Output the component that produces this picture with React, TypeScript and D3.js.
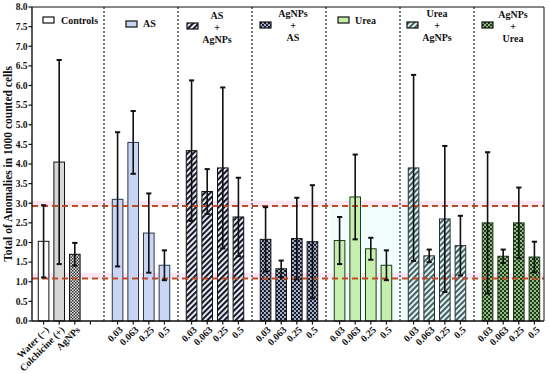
import React from "react";
import * as d3 from "d3";

// groups shown left to right, each with up to 4 slots
const groups = ["Controls", "AS", "AS+AgNPs", "AgNPs+AS", "Urea", "Urea+AgNPs", "AgNPs+Urea"];
const groupLegend = [
  ["Controls"],
  ["AS"],
  ["AS", "+", "AgNPs"],
  ["AgNPs", "+", "AS"],
  ["Urea"],
  ["Urea", "+", "AgNPs"],
  ["AgNPs", "+", "Urea"]
];
const controlLabels = ["Water (−)", "Colchicine (+)", "AgNPs"];
const doseLabels = ["0.03", "0.063", "0.25", "0.5"];

// mean and SD per group
const controlMean = [2.03, 4.05, 1.7];
const controlSd = [0.92, 2.6, 0.29];
const asMean = [3.1, 4.55, 2.24, 1.42];
const asSd = [1.71, 0.8, 1.01, 0.38];
const asAgMean = [4.34, 3.3, 3.9, 2.65];
const asAgSd = [1.79, 0.57, 2.05, 1.0];
const agAsMean = [2.08, 1.33, 2.1, 2.02];
const agAsSd = [0.82, 0.21, 1.04, 1.44];
const ureaMean = [2.05, 3.16, 1.84, 1.42];
const ureaSd = [0.6, 1.08, 0.28, 0.38];
const ureaAgMean = [3.9, 1.66, 2.6, 1.92];
const ureaAgSd = [2.37, 0.16, 1.86, 0.76];
const agUreaMean = [2.5, 1.65, 2.5, 1.63];
const agUreaSd = [1.8, 0.17, 0.9, 0.39];

// reference lines (dashed) and the pale bands beside them
const refLines = [1.08, 2.93];
const refBands = [[1.08, 1.22], [2.92, 3.06]];
const yTicks = d3.range(0, 8.01, 0.5);

const groupMeans = [controlMean, asMean, asAgMean, agAsMean, ureaMean, ureaAgMean, agUreaMean];
const groupSds = [controlSd, asSd, asAgSd, agAsSd, ureaSd, ureaAgSd, agUreaSd];
const controlFills = ["#ffffff", "#d6d6d6", "url(#chkGray)"];
const groupFills = [null, "#c9d6f3", "url(#stripeNavy)", "url(#dotNavy)", "#c6eeae", "url(#stripeTeal)", "url(#dotGreen)"];
const groupStrokes = ["#111", "#2a3550", "#111", "#111", "#1c3a16", "#1e3535", "#1c3a16"];

// legend placement inside each group: [swatch dx, swatch y, text dx, first baseline]
const legendPos = [
  [13, 17, 31, 24],
  [22, 21, 39, 27],
  [9, 23, 39, 19],
  [8, 22, 41, 17],
  [12, 17, 29, 24],
  [7, 22, 37, 17],
  [8, 22, 39, 18]
];

const W = 550;
const H = 373;
const left = 32;
const right = 544;
const top = 7;
const bottom = 321;
const font = "'Liberation Serif', 'DejaVu Serif', serif";

export default function App() {
  const y = d3.scaleLinear().domain([0, 8]).range([bottom, top]);
  const gx = d3.scaleBand<string>().domain(groups).range([left - 2, right + 4]);
  const slot = d3
    .scaleBand<number>()
    .domain([0, 1, 2, 3])
    .range([0, gx.bandwidth()])
    .paddingInner(0.32)
    .paddingOuter(0.53);
  const bw = slot.bandwidth();

  const bars: any[] = [];
  const ticks: any[] = [];
  groups.forEach((g, gi) => {
    const g0 = gx(g)!;
    for (let i = 0; i < 4; i++) {
      const cx = g0 + slot(i)! + bw / 2;
      const label = gi === 0 ? controlLabels[i] : doseLabels[i];
      ticks.push({ cx, label });
      const m = groupMeans[gi][i];
      if (m === undefined) continue;
      bars.push({
        key: g + i,
        x: g0 + slot(i)!,
        cx,
        m,
        sd: groupSds[gi][i],
        fill: gi === 0 ? controlFills[i] : groupFills[gi],
        stroke: groupStrokes[gi]
      });
    }
  });

  return (
    <svg width={W} height={H} style={{ position: "absolute", left: 0, top: 0 }} fontFamily={font}>
      <defs>
        <pattern id="chkGray" patternUnits="userSpaceOnUse" width={3} height={3}>
          <rect width={3} height={3} fill="#e8e8e8" />
          <rect width={1.5} height={1.5} fill="#2e2e2e" />
          <rect x={1.5} y={1.5} width={1.5} height={1.5} fill="#2e2e2e" />
        </pattern>
        <pattern id="stripeNavy" patternUnits="userSpaceOnUse" width={4} height={4} patternTransform="rotate(45)">
          <rect width={4} height={4} fill="#ffffff" />
          <rect width={2.2} height={4} fill="#161a30" />
        </pattern>
        <pattern id="stripeTeal" patternUnits="userSpaceOnUse" width={4} height={4} patternTransform="rotate(45)">
          <rect width={4} height={4} fill="#dcf3ee" />
          <rect width={1.8} height={4} fill="#3a4f58" />
        </pattern>
        <pattern id="dotNavy" patternUnits="userSpaceOnUse" width={4} height={4}>
          <rect width={4} height={4} fill="#1a1e34" />
          <circle cx={1} cy={1} r={0.95} fill="#e6ecff" />
          <circle cx={3} cy={3} r={0.95} fill="#e6ecff" />
        </pattern>
        <pattern id="dotGreen" patternUnits="userSpaceOnUse" width={4} height={4}>
          <rect width={4} height={4} fill="#1d3a1c" />
          <circle cx={1} cy={1} r={0.95} fill="#c9f0ad" />
          <circle cx={3} cy={3} r={0.95} fill="#c9f0ad" />
        </pattern>
      </defs>

      {/* pale background tints */}
      <rect
        x={gx("Urea")! + 4}
        y={y(2.93)}
        width={gx.bandwidth() + 10}
        height={y(0) - y(2.93)}
        fill="#f1fcfd"
      />
      {refBands.map(([a, b], i) => (
        <rect key={"band" + i} x={left} y={y(b)} width={right - left} height={y(a) - y(b)} fill="#fde6f4" />
      ))}

      {/* group separators */}
      {groups.slice(1).map((g) => (
        <line
          key={"sep" + g}
          x1={gx(g)!}
          x2={gx(g)!}
          y1={top}
          y2={bottom}
          stroke="#222"
          strokeWidth={1.2}
          strokeDasharray="2,2"
        />
      ))}

      {/* bars */}
      {bars.map((b) => (
        <rect
          key={b.key}
          x={b.x}
          y={y(b.m)}
          width={bw}
          height={y(0) - y(b.m)}
          fill={b.fill}
          stroke={b.stroke}
          strokeWidth={1}
        />
      ))}

      {/* reference lines */}
      {refLines.map((v, i) => (
        <line
          key={"ref" + i}
          x1={left}
          x2={right}
          y1={y(v)}
          y2={y(v)}
          stroke="#bf4a26"
          strokeWidth={2}
          strokeDasharray="6,4"
        />
      ))}

      {/* error bars */}
      {bars.map((b) => (
        <g key={"e" + b.key} stroke="#111" strokeWidth={1.6}>
          <line x1={b.cx} x2={b.cx} y1={y(b.m + b.sd)} y2={y(b.m - b.sd)} />
          <line x1={b.cx - 2.6} x2={b.cx + 2.6} y1={y(b.m + b.sd)} y2={y(b.m + b.sd)} strokeWidth={2} />
          <line x1={b.cx - 2.6} x2={b.cx + 2.6} y1={y(b.m - b.sd)} y2={y(b.m - b.sd)} strokeWidth={2} />
        </g>
      ))}

      {/* frame */}
      <line x1={left} x2={right} y1={top} y2={top} stroke="#111" strokeWidth={1} />
      <line x1={right} x2={right} y1={top} y2={bottom} stroke="#111" strokeWidth={1} />
      <line x1={left} x2={left} y1={top} y2={bottom} stroke="#111" strokeWidth={1.4} />
      <line x1={left} x2={right} y1={bottom} y2={bottom} stroke="#111" strokeWidth={1.4} />

      {/* y axis */}
      {yTicks.map((t) => (
        <g key={"yt" + t}>
          <line x1={left - 3.5} x2={left} y1={y(t)} y2={y(t)} stroke="#111" strokeWidth={1.2} />
          <text x={left - 4.5} y={y(t)} dy="0.35em" textAnchor="end" fontSize={9.5} fontWeight="bold" fill="#111">
            {t.toFixed(1)}
          </text>
        </g>
      ))}
      <text
        transform={`translate(12,${(top + bottom) / 2}) rotate(-90)`}
        textAnchor="middle"
        fontSize={11.5}
        fontWeight="bold"
        fill="#111"
      >
        Total of Anomalies in 1000 counted cells
      </text>

      {/* x ticks */}
      {ticks.map((t, i) => (
        <g key={"xt" + i}>
          <line x1={t.cx} x2={t.cx} y1={bottom} y2={bottom + 3.5} stroke="#111" strokeWidth={1.2} />
          {t.label && (
            <text
              transform={`translate(${t.cx + 3.5},${bottom + 7}) rotate(-45)`}
              textAnchor="end"
              dy="0.35em"
              fontSize={9.8}
              fontWeight="bold"
              fill="#111"
            >
              {t.label}
            </text>
          )}
        </g>
      ))}

      {/* legends */}
      {groups.map((g, gi) => {
        const g0 = gx(g)!;
        const [sdx, sy, tx, ty] = legendPos[gi];
        const lines = groupLegend[gi];
        const multi = lines.length > 1;
        const fill = gi === 0 ? "#ffffff" : groupFills[gi]!;
        return (
          <g key={"lg" + g}>
            <rect x={g0 + sdx} y={sy} width={11} height={6} fill={fill} stroke="#111" strokeWidth={1.2} />
            {lines.map((s, li) => (
              <text
                key={li}
                x={g0 + tx}
                y={ty + li * 12}
                textAnchor={multi ? "middle" : "start"}
                fontSize={10}
                fontWeight="bold"
                fill="#111"
              >
                {s}
              </text>
            ))}
          </g>
        );
      })}
    </svg>
  );
}
